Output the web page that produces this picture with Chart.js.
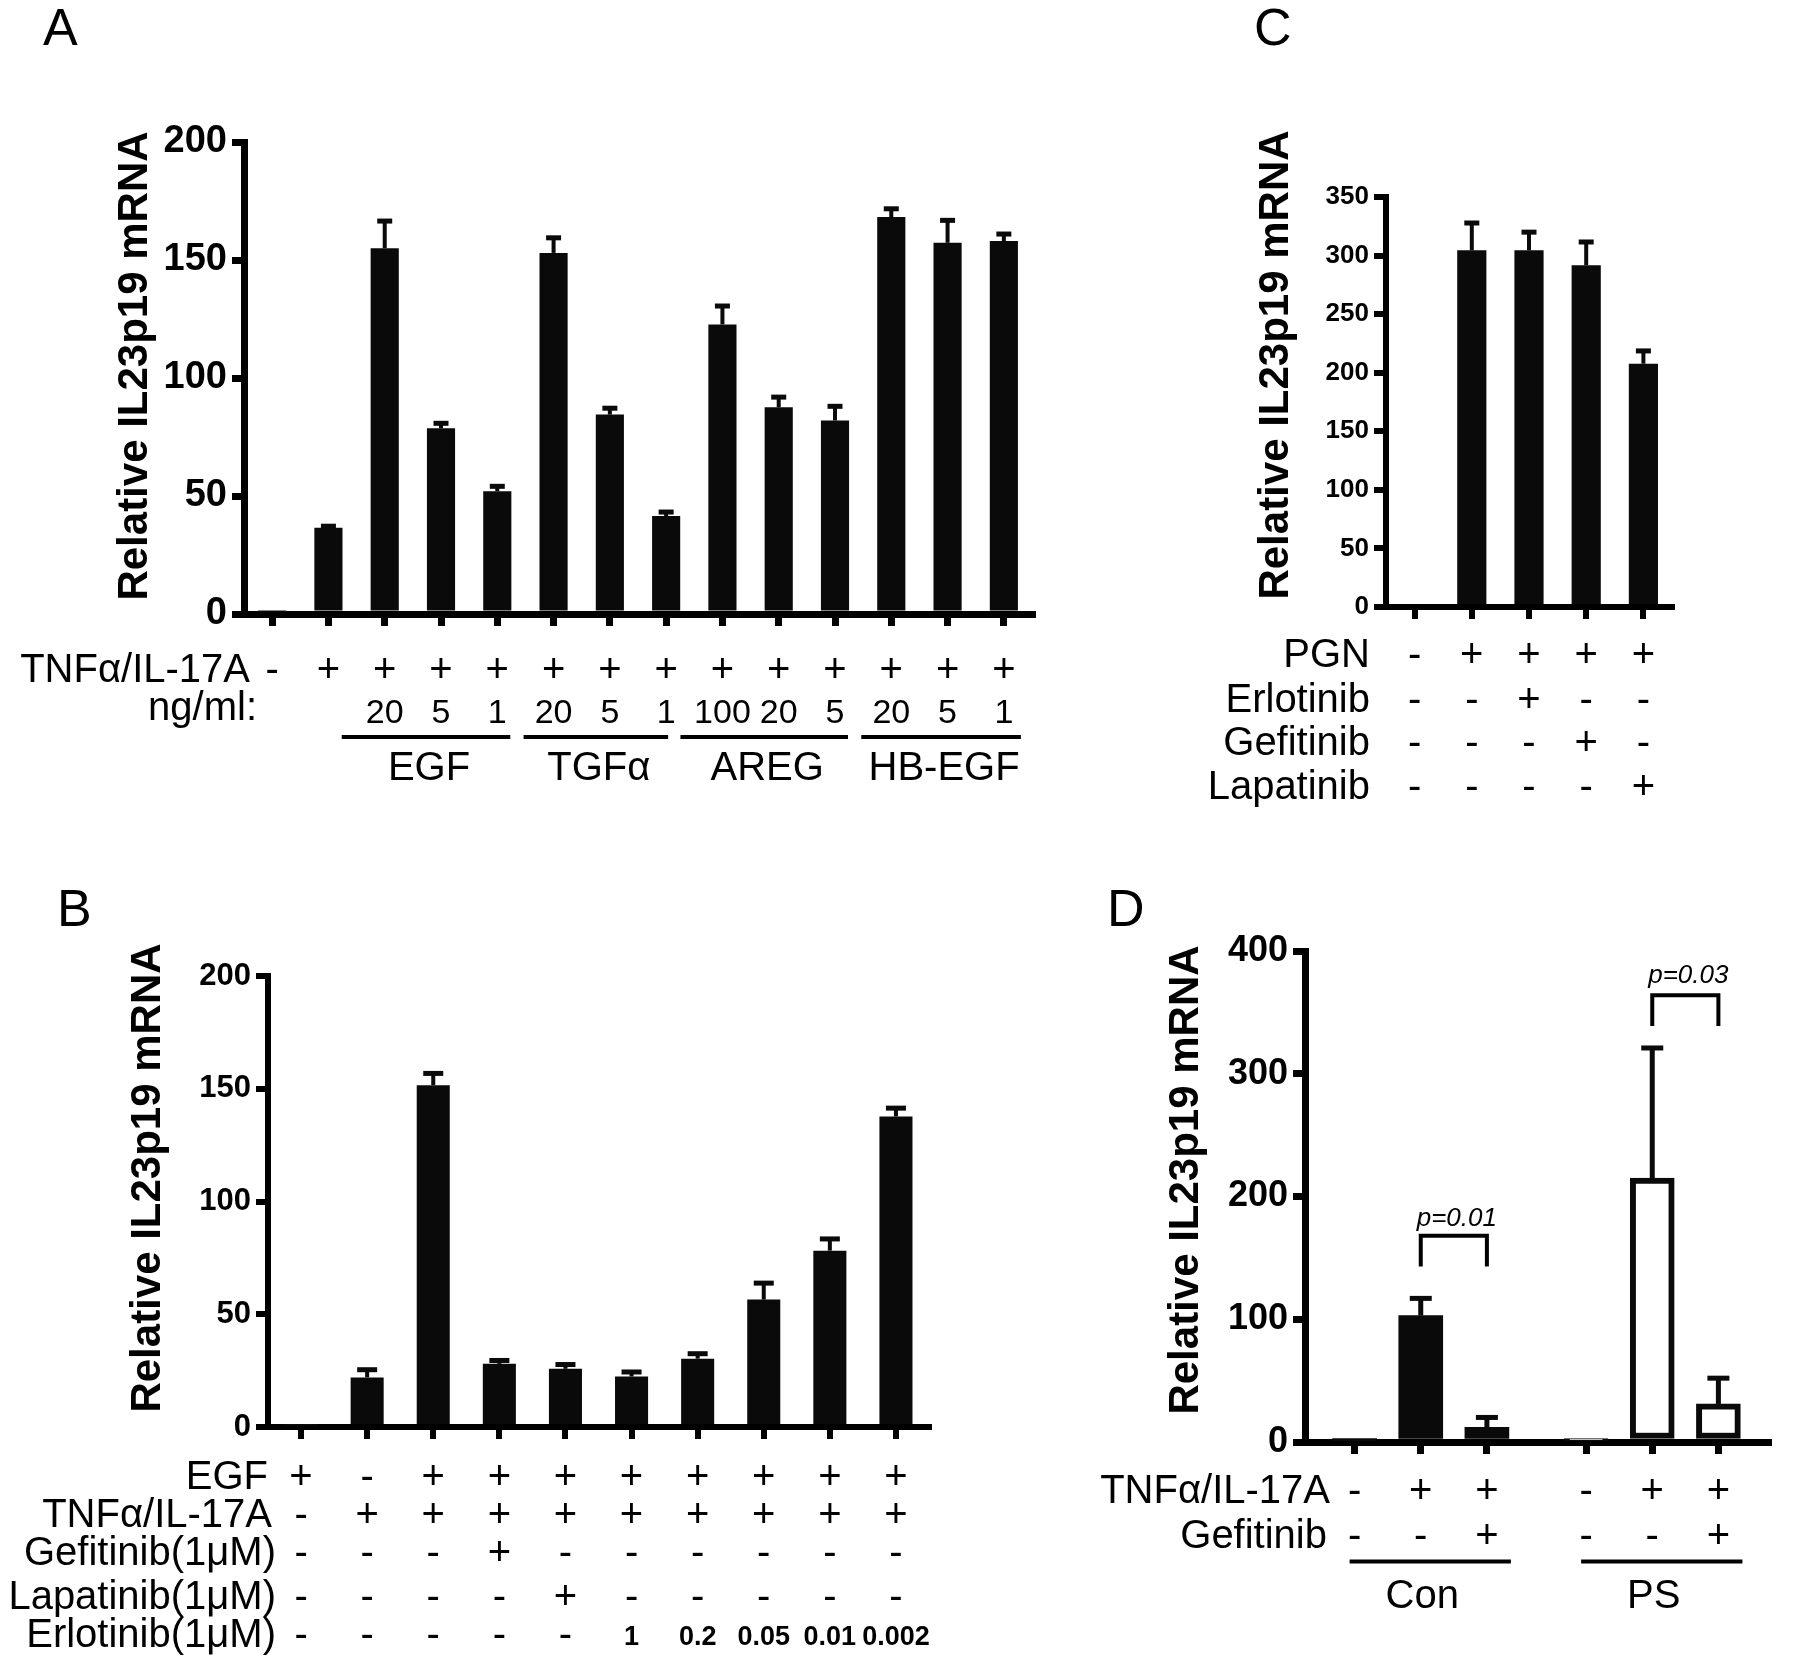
<!DOCTYPE html>
<html><head><meta charset="utf-8">
<script src="https://cdn.jsdelivr.net/npm/chart.js@4.4.1/dist/chart.umd.min.js"></script>
<style>
html,body{margin:0;padding:0;background:#fff;}
body{width:1800px;height:1664px;position:relative;overflow:hidden;font-family:"Liberation Sans",Arial,Helvetica,sans-serif;}
.letter{position:absolute;font-size:52px;line-height:1;color:#000;}
</style></head>
<body>
<div class="letter" style="left:43px;top:1px">A</div>
<div class="letter" style="left:57px;top:882px">B</div>
<div class="letter" style="left:1254px;top:1px">C</div>
<div class="letter" style="left:1107px;top:882px">D</div>
<script>
// ---------------- DATA ----------------
// Panel A
const aTnf    = ['-','+','+','+','+','+','+','+','+','+','+','+','+','+'];
const aDose   = ['','','20','5','1','20','5','1','100','20','5','20','5','1'];
const aGroups = ['EGF','TGFα','AREG','HB-EGF'];
const aGroupSpan = [[2,4],[5,7],[8,10],[11,13]];
const aValues = [0.8, 36.5, 155, 78.7, 52, 153, 84.5, 41.5, 122.7, 87.6, 82, 168.2, 157.3, 158];
const aErrors = [0, 0.7, 11.5, 2.1, 2.1, 6.4, 2.7, 1.7, 7.8, 4.3, 6, 3.5, 9.5, 3];
const aTicks  = {max:200, step:50};

// Panel B
const bRowNames = ['EGF','TNFα/IL-17A','Gefitinib(1μM)','Lapatinib(1μM)','Erlotinib(1μM)'];
const bEGF = ['+','-','+','+','+','+','+','+','+','+'];
const bTnf = ['-','+','+','+','+','+','+','+','+','+'];
const bGef = ['-','-','-','+','-','-','-','-','-','-'];
const bLap = ['-','-','-','-','+','-','-','-','-','-'];
const bErl = ['-','-','-','-','-','1','0.2','0.05','0.01','0.002'];
const bValues = [0.6, 22, 151.6, 28, 25.8, 22.4, 30.3, 56.5, 78.2, 137.7];
const bErrors = [0, 3.4, 5.2, 1.5, 1.9, 2, 2.2, 7.3, 5.2, 3.7];
const bTicks  = {max:200, step:50};

// Panel C
const cRowNames = ['PGN','Erlotinib','Gefitinib','Lapatinib'];
const cPGN = ['-','+','+','+','+'];
const cErl = ['-','-','+','-','-'];
const cGef = ['-','-','-','+','-'];
const cLap = ['-','-','-','-','+'];
const cValues = [0, 304.5, 304.5, 291.7, 207.7];
const cErrors = [0, 23.3, 15.5, 19.9, 10.9];
const cTicks  = {max:350, step:50};

// Panel D
const dRowNames = ['TNFα/IL-17A','Gefitinib'];
const dTnf = ['-','+','+','-','+','+'];
const dGef = ['-','-','+','-','-','+'];
const dGroups = ['Con','PS'];
const dGroupOf = [0,0,0,1,1,1];
const dValues = [1, 103, 12, 1, 215, 31];
const dErrors = [0, 14, 8, 0, 106, 21];
const dPLabels = ['p=0.01','p=0.03'];
const dPPairs  = [[1,2],[4,5]];
const dPTop    = [168, 364];
const dPLeg    = [143, 339];
const dPText   = [182, 380];
const dTicks   = {max:400, step:100};

// ---------------- STYLE / LAYOUT ----------------
const FONT = '"Liberation Sans", Arial, Helvetica, sans-serif';
Chart.defaults.font.family = FONT;
Chart.defaults.color = '#000';
const BLACK = '#0a0a0a';

function mount(box){
  const c = document.createElement('canvas');
  c.width = box.w; c.height = box.h;
  c.style.cssText = `position:absolute;left:${box.left}px;top:${box.top}px;width:${box.w}px;height:${box.h}px`;
  document.body.appendChild(c);
  return c;
}
function yAxis(t, fs, w, lw){
  return {
    min:0, max:t.max,
    ticks:{stepSize:t.step, font:{size:fs, weight:'bold', family:FONT}, color:'#000', padding:5},
    grid:{display:true, drawOnChartArea:false, drawTicks:true, tickLength:12, lineWidth:lw, tickWidth:lw, color:'#000'},
    border:{display:true, width:lw, color:'#000'},
    afterFit(s){ s.width = w; }
  };
}
function xAxis(h, lw, tickColor){
  return {
    type:'category', offset:true,
    ticks:{display:false},
    grid:{display:true, drawOnChartArea:false, drawTicks:true, tickLength:12, lineWidth:lw, tickWidth:lw,
          color:'#000', tickColor: tickColor || '#000', offset:false},
    border:{display:true, width:lw, color:'#000'},
    afterFit(s){ s.height = h; }
  };
}
function baseOptions(box, plot, t, fs, lw, tickColor){
  return {
    responsive:false, animation:false, devicePixelRatio:1,
    layout:{padding:{left:0, top:plot.top-box.top, right:box.left+box.w-plot.right, bottom:0}},
    plugins:{legend:{display:false}, tooltip:{enabled:false}},
    scales:{ x:xAxis(box.top+box.h-plot.bottom, lw, tickColor), y:yAxis(t, fs, plot.left-box.left, lw) }
  };
}
function errorBars(capW, stemW){
  return {
    id:'errbars',
    afterDatasetsDraw(chart){
      const ctx = chart.ctx, y = chart.scales.y;
      const ds = chart.data.datasets[0], meta = chart.getDatasetMeta(0);
      ctx.save(); ctx.fillStyle = BLACK;
      ds.errors.forEach((e,i)=>{
        if(!e || ds.data[i]==null) return;
        const cx = meta.data[i].x;
        const top = y.getPixelForValue(ds.data[i]);
        const et = y.getPixelForValue(ds.data[i]+e);
        ctx.fillRect(cx-stemW/2, et, stemW, top-et);
        ctx.fillRect(cx-capW/2, et-2.5, capW, 5);
      });
      ctx.restore();
    }
  };
}
function txt(ctx, s, x, y, font, align){
  ctx.font = font; ctx.textAlign = align || 'center'; ctx.textBaseline = 'alphabetic';
  ctx.fillStyle = '#000'; ctx.fillText(s, x, y);
}
function vTitle(ctx, s, cx, cy){
  ctx.save(); ctx.translate(cx, cy); ctx.rotate(-Math.PI/2);
  ctx.font = 'bold 42px '+FONT; ctx.textAlign='center'; ctx.textBaseline='middle';
  ctx.fillStyle='#000'; ctx.fillText(s, 0, 0); ctx.restore();
}
const TITLE = 'Relative IL23p19 mRNA';
const F40 = '40px '+FONT;

// ---------------- PANEL A ----------------
(function(){
  const box = {left:0, top:0, w:1060, h:800};
  const plot = {left:244, right:1032, top:142, bottom:614};
  const ul = [[-43,13],[-30,2],[-42,13],[-30,17]];
  const rows = {
    id:'rowsA',
    afterDraw(chart){
      const ctx = chart.ctx, x = chart.scales.x;
      const px = i => x.getPixelForValue(i) + box.left;
      ctx.save(); ctx.translate(-box.left, -box.top);
      vTitle(ctx, TITLE, 135, 366);
      txt(ctx, 'TNFα/IL-17A', 250, 682, F40, 'right');
      aTnf.forEach((s,i)=> txt(ctx, s, px(i), 682, F40));
      txt(ctx, 'ng/ml:', 257, 720, F40, 'right');
      aDose.forEach((s,i)=> { if(s) txt(ctx, s, px(i), 723, '34px '+FONT); });
      ctx.fillStyle = '#000';
      aGroups.forEach((g,k)=>{
        const x1 = px(aGroupSpan[k][0]) + ul[k][0], x2 = px(aGroupSpan[k][1]) + ul[k][1];
        ctx.fillRect(x1, 735, x2-x1, 4);
        txt(ctx, g, (x1+x2)/2 + 3, 780, F40);
      });
      ctx.restore();
    }
  };
  new Chart(mount(box), {
    type:'bar',
    data:{ labels: aTnf.map((t,i)=> t+' '+aDose[i]),
      datasets:[{ data:aValues, errors:aErrors, backgroundColor:BLACK, borderWidth:0,
                  barPercentage:0.5, categoryPercentage:1 }] },
    options: baseOptions(box, plot, aTicks, 38, 7),
    plugins:[errorBars(15,4), rows]
  });
})();

// ---------------- PANEL C ----------------
(function(){
  const box = {left:1100, top:0, w:700, h:820};
  const plot = {left:1386, right:1672, top:197, bottom:607};
  const rowsData = [cPGN, cErl, cGef, cLap];
  const base = [667, 712, 755, 799];
  const rows = {
    id:'rowsC',
    afterDraw(chart){
      const ctx = chart.ctx, x = chart.scales.x;
      const px = i => x.getPixelForValue(i) + box.left;
      ctx.save(); ctx.translate(-box.left, -box.top);
      vTitle(ctx, TITLE, 1276, 365);
      rowsData.forEach((r,k)=>{
        txt(ctx, cRowNames[k], 1370, base[k], F40, 'right');
        r.forEach((s,i)=> txt(ctx, s, px(i), base[k], F40));
      });
      ctx.restore();
    }
  };
  new Chart(mount(box), {
    type:'bar',
    data:{ labels: cPGN.map((s,i)=> i+''),
      datasets:[{ data:cValues, errors:cErrors, backgroundColor:BLACK, borderWidth:0,
                  barPercentage:0.51, categoryPercentage:1 }] },
    options: baseOptions(box, plot, cTicks, 26, 6),
    plugins:[errorBars(15,4), rows]
  });
})();

// ---------------- PANEL B ----------------
(function(){
  const box = {left:0, top:850, w:1000, h:814};
  const plot = {left:268, right:929, top:976, bottom:1427};
  const rowsData = [bEGF, bTnf, bGef, bLap, bErl];
  const base = [1489, 1527, 1565, 1609, 1647];
  const right = [268, 272, 276, 276, 276];
  const rows = {
    id:'rowsB',
    afterDraw(chart){
      const ctx = chart.ctx, x = chart.scales.x;
      const px = i => x.getPixelForValue(i) + box.left;
      ctx.save(); ctx.translate(-box.left, -box.top);
      vTitle(ctx, TITLE, 148, 1178);
      rowsData.forEach((r,k)=>{
        txt(ctx, bRowNames[k], right[k], base[k], F40, 'right');
        r.forEach((s,i)=>{
          if(s==='+'||s==='-') txt(ctx, s, px(i), base[k], F40);
          else txt(ctx, s, px(i), base[k]-2, 'bold 27px '+FONT);
        });
      });
      ctx.restore();
    }
  };
  new Chart(mount(box), {
    type:'bar',
    data:{ labels: bEGF.map((s,i)=> i+''),
      datasets:[{ data:bValues, errors:bErrors, backgroundColor:BLACK, borderWidth:0,
                  barPercentage:0.5, categoryPercentage:1 }] },
    options: baseOptions(box, plot, bTicks, 31, 6),
    plugins:[errorBars(20,4), rows]
  });
})();

// ---------------- PANEL D ----------------
(function(){
  const box = {left:1050, top:850, w:750, h:814};
  const plot = {left:1305, right:1768, top:951, bottom:1442};
  const NSLOT = 14;
  const slotOf = i => 1 + dGroupOf[i]*7 + (i - dGroupOf[i]*3)*2;
  const slotData = new Array(NSLOT).fill(null);
  const slotErr = new Array(NSLOT).fill(0);
  const slotFill = new Array(NSLOT).fill('#fff');
  const slotBorder = new Array(NSLOT).fill(0);
  const isBar = new Array(NSLOT).fill(false);
  dValues.forEach((v,i)=>{
    const s = slotOf(i);
    slotData[s] = v; slotErr[s] = dErrors[i]; isBar[s] = true;
    slotFill[s] = dGroupOf[i]===0 ? BLACK : '#ffffff';
    slotBorder[s] = dGroupOf[i]===0 ? 0 : 6;
  });
  const base = [1503, 1548];
  const right = [1330, 1327];
  const rowsData = [dTnf, dGef];
  const rows = {
    id:'rowsD',
    afterDraw(chart){
      const ctx = chart.ctx, x = chart.scales.x, y = chart.scales.y;
      const px = i => x.getPixelForValue(slotOf(i)) + box.left;
      const py = v => y.getPixelForValue(v) + box.top;
      ctx.save(); ctx.translate(-box.left, -box.top);
      vTitle(ctx, TITLE, 1186, 1180);
      rowsData.forEach((r,k)=>{
        txt(ctx, dRowNames[k], right[k], base[k], F40, 'right');
        r.forEach((s,i)=> txt(ctx, s, px(i), base[k], F40));
      });
      ctx.fillStyle = '#000';
      dGroups.forEach((g,k)=>{
        const idx = dGroupOf.map((gg,i)=> gg===k ? i : -1).filter(i=> i>=0);
        const x1 = px(idx[0]) - 5, x2 = px(idx[idx.length-1]) + 24;
        ctx.fillRect(x1, 1559.5, x2-x1, 4);
        txt(ctx, g, (x1+x2)/2 - 8, 1608, F40);
      });
      // significance brackets
      ctx.strokeStyle = '#000'; ctx.lineWidth = 4; ctx.lineJoin = 'miter';
      dPPairs.forEach((p,k)=>{
        const x1 = px(p[0]), x2 = px(p[1]);
        const yt = py(dPTop[k]), yl = py(dPLeg[k]);
        ctx.beginPath(); ctx.moveTo(x1, yl); ctx.lineTo(x1, yt); ctx.lineTo(x2, yt); ctx.lineTo(x2, yl); ctx.stroke();
        ctx.font = 'italic 26px '+FONT; ctx.textAlign='center'; ctx.textBaseline='middle'; ctx.fillStyle='#000';
        ctx.fillText(dPLabels[k], (x1+x2)/2 + 3, py(dPText[k]));
      });
      ctx.restore();
    }
  };
  new Chart(mount(box), {
    type:'bar',
    data:{ labels: slotData.map((s,i)=> i+''),
      datasets:[{ data:slotData, errors:slotErr, backgroundColor:slotFill, borderColor:BLACK,
                  borderWidth:slotBorder, borderSkipped:false, barThickness:44 }] },
    options: baseOptions(box, plot, dTicks, 36, 7, ctx => isBar[ctx.index] ? '#000' : 'rgba(0,0,0,0)'),
    plugins:[errorBars(22,5), rows]
  });
})();
</script>
</body></html>
